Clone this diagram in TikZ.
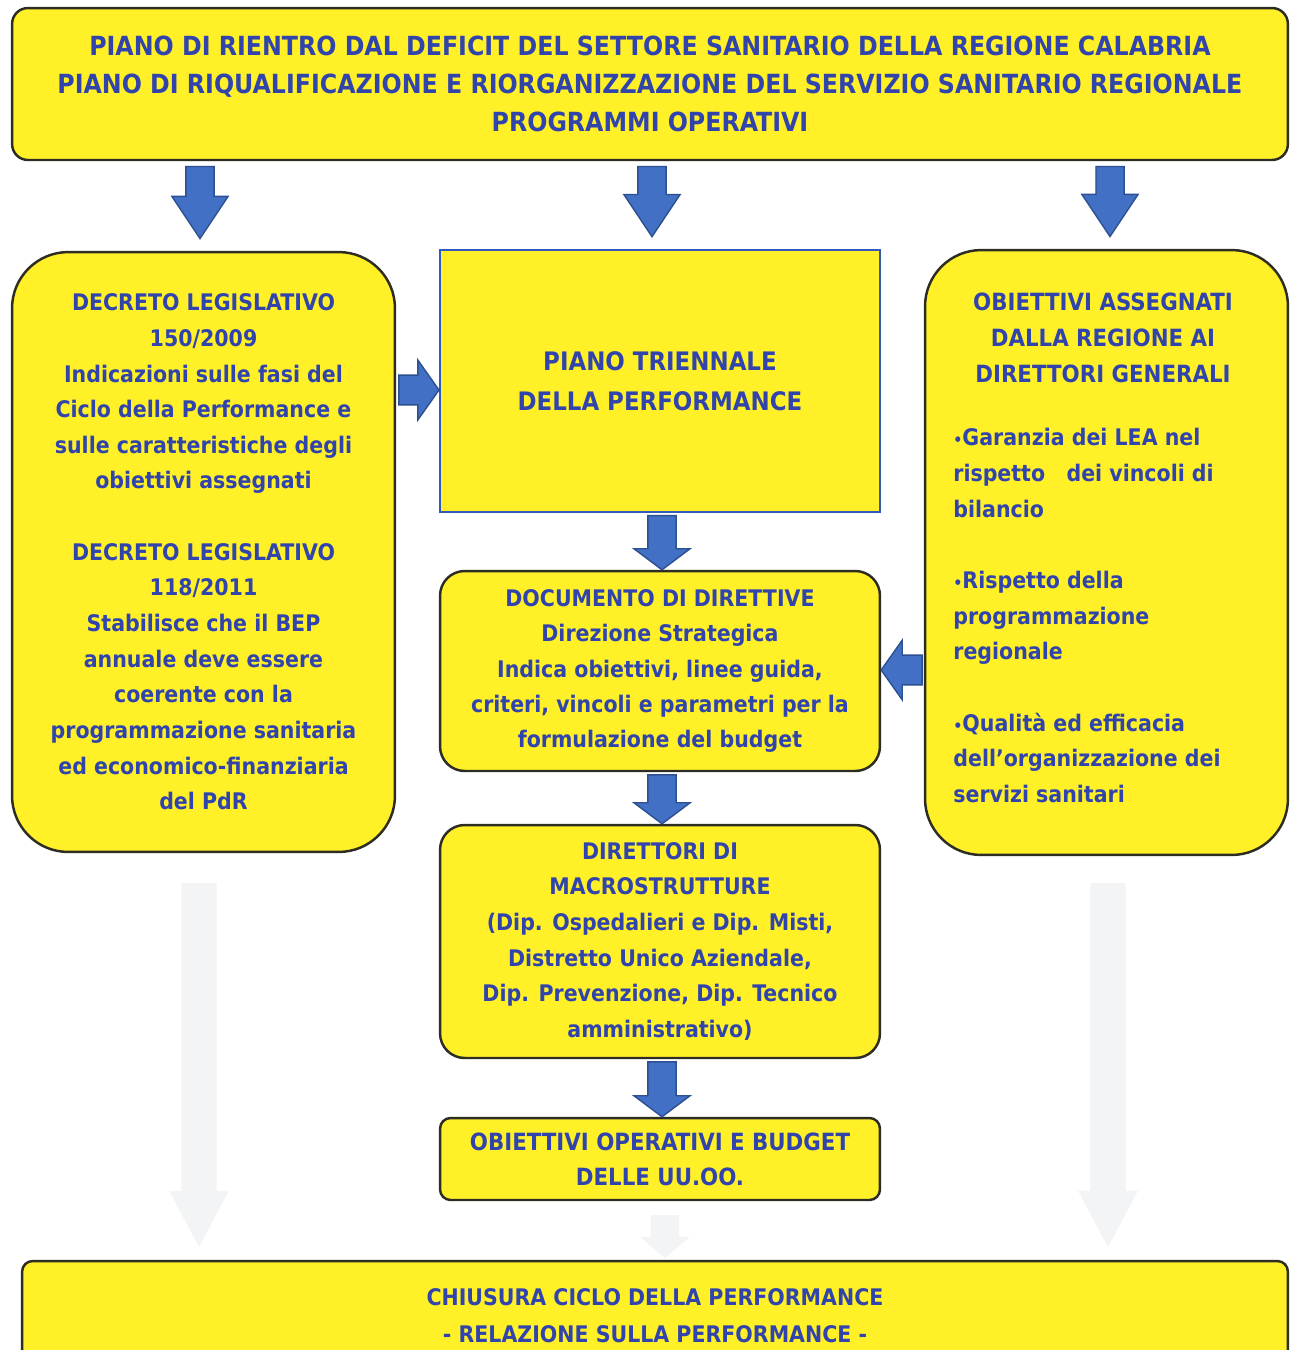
\documentclass[tikz,border=0pt]{standalone}
\usepackage{fontspec}
\setmainfont{DejaVu Sans Condensed}
\usetikzlibrary{calc}
\definecolor{boxyellow}{RGB}{255,240,40}
\definecolor{txtblue}{RGB}{48,68,172}
\definecolor{arrfill}{RGB}{66,112,196}
\definecolor{arredge}{RGB}{45,80,145}
\definecolor{ghost}{RGB}{243,244,245}
\definecolor{edgedark}{RGB}{45,45,35}
\definecolor{edgeblue}{RGB}{50,90,190}
\tikzset{
  ybox/.style={draw=edgedark, line width=1.4pt, fill=boxyellow, text=txtblue, align=center, inner sep=0pt},
  blk/.style={fill=arrfill, draw=arredge, line width=0.8pt},
  ghostarr/.style={fill=ghost},
  txt/.style={text=txtblue, inner sep=0pt},
}
\newcommand\bul{{\fontsize{9}{9}\selectfont•}}
% vertical block arrow: start, end, shaft half, head half, head length, style
\newcommand\vblock[6]{%
  \path[#6] let \p1=(#1), \p2=(#2) in
    ({\x1-#3},\y1) -- ({\x1+#3},\y1) -- ({\x1+#3},{\y2+#5}) -- ({\x1+#4},{\y2+#5}) --
    (\x1,\y2) -- ({\x1-#4},{\y2+#5}) -- ({\x1-#3},{\y2+#5}) -- cycle;}
% horizontal block arrow: start, end, shaft half, head half, signed head length, style
\newcommand\hblock[6]{%
  \path[#6] let \p1=(#1), \p2=(#2), \n1={#5} in
    (\x1,{\y1+#3}) -- ({\x2-\n1},{\y1+#3}) -- ({\x2-\n1},{\y1+#4}) -- (\x2,\y1) --
    ({\x2-\n1},{\y1-#4}) -- ({\x2-\n1},{\y1-#3}) -- (\x1,{\y1-#3}) -- cycle;}
\begin{document}
\begin{tikzpicture}[x=0.02cm,y=-0.02cm]
\clip (0,0) rectangle (1292,1350);
\fill[white] (0,0) rectangle (1292,1350);

% ghost arrows
\coordinate (g1s) at (199,883);
\coordinate (g1e) at (199,1247);
\coordinate (g2s) at (1108,883);
\coordinate (g2e) at (1108,1247);
\coordinate (g3s) at (665,1215);
\coordinate (g3e) at (665,1258);
\vblock{g1s}{g1e}{10pt}{17pt}{32pt}{ghostarr}
\vblock{g2s}{g2e}{10pt}{17pt}{32pt}{ghostarr}
\vblock{g3s}{g3e}{8pt}{14pt}{12pt}{ghostarr}

% top box
\node[ybox, rounded corners=9pt, minimum width=25.52cm, minimum height=3.04cm,
  font=\bfseries\fontsize{15}{21.5}\selectfont] (T) at (650,84)
  {PIANO DI RIENTRO DAL DEFICIT DEL SETTORE SANITARIO DELLA REGIONE CALABRIA\\
   PIANO DI RIQUALIFICAZIONE E RIORGANIZZAZIONE DEL SERVIZIO SANITARIO REGIONALE\\
   PROGRAMMI OPERATIVI};

% left box
\node[ybox, rounded corners=32pt, minimum width=7.66cm, minimum height=12cm,
  font=\bfseries\fontsize{13}{20.3}\selectfont] (L) at (203.5,552)
  {DECRETO LEGISLATIVO\\150/2009\\Indicazioni sulle fasi del\\Ciclo della Performance e\\
   sulle caratteristiche degli\\obiettivi assegnati\\~\\
   DECRETO LEGISLATIVO\\118/2011\\Stabilisce che il BEP\\annuale deve essere\\
   coerente con la\\programmazione sanitaria\\ed economico-finanziaria\\del PdR};

% center top box
\node[ybox, draw=edgeblue, line width=1.2pt, minimum width=8.8cm, minimum height=5.24cm,
  font=\bfseries\fontsize{14.5}{23}\selectfont] (P) at (660,381)
  {PIANO TRIENNALE\\DELLA PERFORMANCE};

% right box
\node[ybox, rounded corners=32pt, minimum width=7.26cm, minimum height=12.1cm] (R) at (1106.5,552.5) {};
\node[txt, align=center, font=\bfseries\fontsize{13.5}{20.3}\selectfont] (Rh) at (1103,338)
  {OBIETTIVI ASSEGNATI\\DALLA REGIONE AI\\DIRETTORI GENERALI};
\node[txt, align=left, anchor=north west, font=\bfseries\fontsize{13}{20.3}\selectfont] (Rb) at (953,428)
  {\bul Garanzia dei LEA nel\\rispetto \ \ dei vincoli di\\bilancio\\~\\
   \bul Rispetto della\\programmazione\\regionale\\~\\
   \bul Qualità ed efficacia\\dell’organizzazione dei\\servizi sanitari};

% documento di direttive
\node[ybox, rounded corners=14pt, minimum width=8.8cm, minimum height=4cm,
  font=\bfseries\fontsize{13}{20}\selectfont] (D) at (660,671)
  {DOCUMENTO DI DIRETTIVE\\Direzione Strategica\\Indica obiettivi, linee guida,\\
   criteri, vincoli e parametri per la\\formulazione del budget};

% direttori di macrostrutture
\node[ybox, rounded corners=14pt, minimum width=8.8cm, minimum height=4.66cm,
  font=\bfseries\fontsize{13}{20.3}\selectfont] (M) at (660,941.5)
  {DIRETTORI DI\\MACROSTRUTTURE\\(Dip. Ospedalieri e Dip. Misti,\\Distretto Unico Aziendale,\\
   Dip. Prevenzione, Dip. Tecnico\\amministrativo)};

% obiettivi operativi
\node[ybox, rounded corners=6pt, minimum width=8.8cm, minimum height=1.64cm,
  font=\bfseries\fontsize{13.5}{20}\selectfont] (O) at (660,1159)
  {OBIETTIVI OPERATIVI E BUDGET\\DELLE UU.OO.};

% bottom box
\node[ybox, rounded corners=6pt, minimum width=25.32cm, minimum height=2.2cm,
  font=\bfseries\fontsize{13}{21}\selectfont] (B) at (655,1316)
  {CHIUSURA CICLO DELLA PERFORMANCE\\- RELAZIONE SULLA PERFORMANCE -};

% blue block arrows
\coordinate (a1s) at ([yshift=-3pt]T.south -| 200,0);
\coordinate (a1e) at ([yshift=7pt]L.north -| 200,0);
\coordinate (a2s) at ([yshift=-3pt]T.south -| 652,0);
\coordinate (a2e) at ([yshift=7pt]P.north -| 652,0);
\coordinate (a3s) at ([yshift=-3pt]T.south -| 1110,0);
\coordinate (a3e) at ([yshift=7pt]R.north -| 1110,0);
\vblock{a1s}{a1e}{8pt}{16pt}{24pt}{blk}
\vblock{a2s}{a2e}{8pt}{16pt}{24pt}{blk}
\vblock{a3s}{a3e}{8pt}{16pt}{24pt}{blk}

\coordinate (b1s) at ([yshift=-1.5pt]P.south -| 662,0);
\coordinate (b1e) at (D.north -| 662,0);
\coordinate (b2s) at ([yshift=-1.5pt]D.south -| 662,0);
\coordinate (b2e) at (M.north -| 662,0);
\coordinate (b3s) at ([yshift=-1.5pt]M.south -| 662,0);
\coordinate (b3e) at (O.north -| 662,0);
\vblock{b1s}{b1e}{8pt}{16pt}{12pt}{blk}
\vblock{b2s}{b2e}{8pt}{16pt}{12pt}{blk}
\vblock{b3s}{b3e}{8pt}{16pt}{12pt}{blk}

\coordinate (c1s) at ([xshift=1.5pt]L.east |- 0,390);
\coordinate (c1e) at (P.west |- 0,390);
\hblock{c1s}{c1e}{8.5pt}{17pt}{12pt}{blk}
\coordinate (c2s) at ([xshift=-1pt]R.west |- 0,670);
\coordinate (c2e) at (D.east |- 0,670);
\hblock{c2s}{c2e}{8.5pt}{17pt}{-12pt}{blk}
\end{tikzpicture}
\end{document}
